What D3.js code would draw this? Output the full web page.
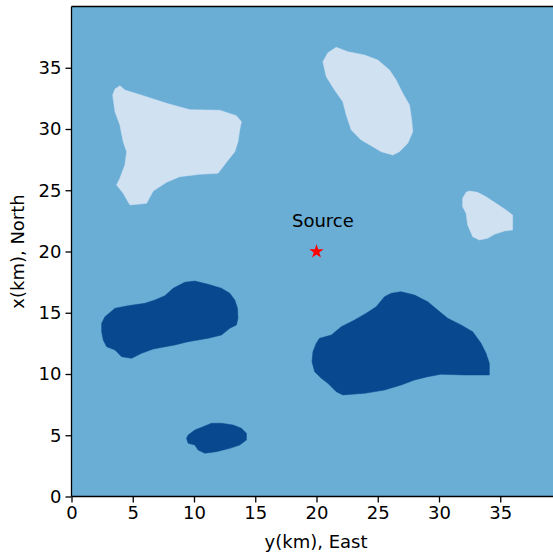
<!DOCTYPE html>
<html>
<head>
<meta charset="utf-8">
<script src="https://cdn.jsdelivr.net/npm/d3@7"></script>
<style>
  html, body { margin: 0; padding: 0; background: #ffffff; }
  svg { display: block; }
  text { font-family: "DejaVu Sans", sans-serif; }
</style>
</head>
<body>
<script>
// Domain of the map in km (East = horizontal, North = vertical)
const eastDomain = [0, 40];
const northDomain = [0, 40];
const eastTicks = [0, 5, 10, 15, 20, 25, 30, 35];
const northTicks = [0, 5, 10, 15, 20, 25, 30, 35];

// Zone levels: 0 = low (light), 1 = background, 2 = high (dark)
const levelColors = ["#d0e1f2", "#6aaed6", "#08488e"];
const backgroundLevel = 1;

// Low-level zones, outlines as [east km, north km]
const lowZoneA = [[3.95,33.53],[4.36,33.18],[5.85,32.72],[7.76,32.10],[9.66,31.58],[12.10,31.53],[13.46,31.09],[13.87,30.60],[13.73,29.92],[13.59,28.96],[13.33,28.15],[12.65,27.28],[11.96,26.38],[10.47,26.30],[8.84,26.11],[7.76,25.65],[6.67,24.94],[6.13,23.93],[4.77,23.80],[4.22,24.75],[3.68,25.43],[3.95,25.98],[4.36,27.08],[4.50,28.15],[4.22,28.96],[3.95,30.33],[3.55,31.41],[3.36,32.78],[3.55,33.27]];
const lowZoneB = [[21.61,36.67],[22.56,36.31],[23.92,36.04],[25.00,35.63],[25.96,34.82],[26.50,34.00],[27.04,32.91],[27.59,31.96],[27.77,30.73],[27.86,29.78],[27.45,28.83],[26.77,28.15],[26.23,27.88],[25.28,28.15],[24.60,28.56],[23.65,29.10],[22.84,29.92],[22.43,31.14],[22.15,32.23],[21.48,33.18],[20.80,34.27],[20.52,35.49],[20.93,36.23]];
const lowZoneC = [[32.48,24.94],[33.15,24.83],[33.84,24.47],[34.65,23.93],[35.47,23.39],[36.01,22.98],[36.01,21.76],[35.33,21.67],[34.52,21.40],[33.97,21.08],[33.29,20.94],[32.75,21.21],[32.34,22.16],[32.21,23.12],[31.93,23.66],[31.93,24.34],[32.21,24.83]];

// High-level zones
const highZoneA = [[2.46,14.14],[2.73,14.68],[3.55,15.36],[4.63,15.58],[5.99,15.77],[6.81,16.04],[7.62,16.39],[8.30,17.00],[9.25,17.49],[10.07,17.59],[11.15,17.32],[12.24,17.00],[12.92,16.59],[13.33,16.04],[13.55,15.36],[13.59,14.55],[13.46,14.00],[12.92,13.73],[12.24,13.18],[11.15,12.91],[9.52,12.64],[8.44,12.37],[6.67,12.04],[5.72,11.69],[4.91,11.28],[4.09,11.41],[3.55,11.96],[2.87,12.23],[2.59,12.78],[2.46,13.45]];
const highZoneB = [[20.25,12.91],[21.21,13.18],[22.02,13.86],[23.11,14.41],[24.06,14.96],[24.87,15.49],[25.55,16.31],[26.10,16.59],[26.91,16.72],[28.00,16.45],[29.08,15.90],[29.89,15.22],[30.71,14.55],[31.80,14.00],[32.75,13.45],[33.43,12.51],[33.84,11.69],[34.11,10.87],[34.11,9.92],[32.07,9.92],[30.17,9.98],[29.08,9.78],[28.00,9.51],[26.91,9.10],[25.55,8.69],[23.92,8.42],[22.15,8.29],[21.61,8.56],[20.93,9.24],[20.39,9.65],[19.85,10.19],[19.63,11.00],[19.71,11.82],[19.98,12.51]];
const highZoneC = [[9.52,5.02],[10.07,5.43],[10.74,5.70],[11.43,5.98],[12.24,5.98],[13.19,5.84],[13.87,5.57],[14.28,5.16],[14.28,4.61],[13.73,4.20],[12.92,3.93],[11.83,3.66],[10.88,3.53],[10.33,3.80],[10.07,4.20],[9.52,4.34],[9.39,4.75]];

const zones = [
  { level: 0, outline: lowZoneA },
  { level: 0, outline: lowZoneB },
  { level: 0, outline: lowZoneC },
  { level: 2, outline: highZoneA },
  { level: 2, outline: highZoneB },
  { level: 2, outline: highZoneC }
];

// Source location and its label (label anchored at its left end)
const source = { east: 20, north: 20, label: "Source", labelEast: 18, labelNorth: 22 };

const xLabel = "y(km), East";
const yLabel = "x(km), North";

const W = 553, H = 556;
const margin = { left: 71.5, top: 6.5 };
const plotSize = 490;
const fontSize = 18;

const svg = d3.select("body").append("svg")
  .attr("width", W).attr("height", H);

const x = d3.scaleLinear().domain(eastDomain).range([margin.left, margin.left + plotSize]);
const y = d3.scaleLinear().domain(northDomain).range([margin.top + plotSize, margin.top]);

svg.append("clipPath").attr("id", "plot-clip")
  .append("rect")
  .attr("x", x(eastDomain[0])).attr("y", y(northDomain[1]))
  .attr("width", x(eastDomain[1]) - x(eastDomain[0]))
  .attr("height", y(northDomain[0]) - y(northDomain[1]));

const plot = svg.append("g").attr("clip-path", "url(#plot-clip)");

// background field
plot.append("rect")
  .attr("x", x(eastDomain[0])).attr("y", y(northDomain[1]))
  .attr("width", x(eastDomain[1]) - x(eastDomain[0]))
  .attr("height", y(northDomain[0]) - y(northDomain[1]))
  .attr("fill", levelColors[backgroundLevel]);

const line = d3.line().x(d => x(d[0])).y(d => y(d[1])).curve(d3.curveLinearClosed);

plot.selectAll("path.zone").data(zones).join("path")
  .attr("class", "zone")
  .attr("d", d => line(d.outline))
  .attr("fill", d => levelColors[d.level])
  .attr("stroke", d => levelColors[d.level])
  .attr("stroke-width", 0.5);

// source marker and label
plot.append("path")
  .attr("d", d3.symbol(d3.symbolStar, 64)())
  .attr("transform", `translate(${x(source.east)},${y(source.north)})`)
  .attr("fill", "#ff0000");

plot.append("text")
  .attr("x", x(source.labelEast)).attr("y", y(source.labelNorth))
  .attr("text-anchor", "start")
  .attr("font-size", fontSize)
  .attr("fill", "#000")
  .text(source.label);

// frame
const frame = svg.append("g").attr("fill", "none").attr("stroke", "#000").attr("stroke-width", 1.3);
frame.append("line").attr("x1", x(0)).attr("x2", x(0)).attr("y1", y(0)).attr("y2", y(40));
frame.append("line").attr("x1", x(0)).attr("x2", x(40)).attr("y1", y(0)).attr("y2", y(0));
frame.append("line").attr("x1", x(0)).attr("x2", x(40)).attr("y1", y(40)).attr("y2", y(40));
frame.append("line").attr("x1", x(40)).attr("x2", x(40)).attr("y1", y(0)).attr("y2", y(40));

// axes
const xAxis = d3.axisBottom(x).tickValues(eastTicks).tickSize(6).tickPadding(4).tickFormat(d3.format("d"));
const yAxis = d3.axisLeft(y).tickValues(northTicks).tickSize(6).tickPadding(4).tickFormat(d3.format("d"));

const gx = svg.append("g").attr("transform", `translate(0,${y(0)})`).call(xAxis);
const gy = svg.append("g").attr("transform", `translate(${x(0)},0)`).call(yAxis);
[gx, gy].forEach(g => {
  g.select(".domain").remove();
  g.selectAll(".tick line").attr("stroke", "#000").attr("stroke-width", 1.3);
  g.selectAll(".tick text").attr("font-size", fontSize).attr("fill", "#000")
    .attr("font-family", "DejaVu Sans, sans-serif");
});

svg.append("text")
  .attr("x", x(20) - 0.5).attr("y", 548)
  .attr("text-anchor", "middle").attr("font-size", fontSize).attr("fill", "#000")
  .text(xLabel);

svg.append("text")
  .attr("transform", `translate(24,${y(20)}) rotate(-90)`)
  .attr("text-anchor", "middle").attr("font-size", fontSize).attr("fill", "#000")
  .text(yLabel);
</script>
</body>
</html>
